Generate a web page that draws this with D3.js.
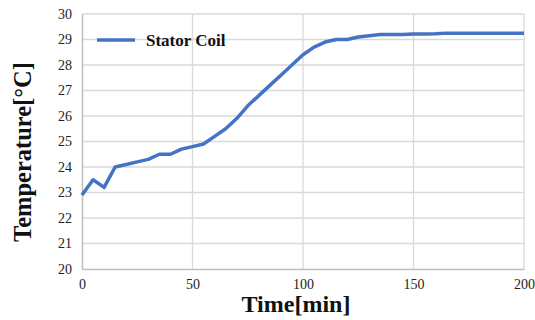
<!DOCTYPE html>
<html>
<head>
<meta charset="utf-8">
<script src="https://cdn.jsdelivr.net/npm/d3@7"></script>
<style>
  body { margin: 0; background: #fff; }
  text { font-family: "Liberation Serif", "Times New Roman", serif; }
</style>
</head>
<body>
<div id="chart"></div>
<script>
// time in minutes
var times = [0, 5, 10, 15, 20, 25, 30, 35, 40, 45, 50, 55, 60, 65, 70, 75, 80, 85, 90, 95,
             100, 105, 110, 115, 120, 125, 130, 135, 140, 145, 150, 155, 160, 165, 170,
             175, 180, 185, 190, 195, 200];
// stator coil temperature
var statorCoil = [22.9, 23.5, 23.2, 24.0, 24.1, 24.2, 24.3, 24.5, 24.5, 24.7, 24.8, 24.9, 25.2,
                  25.5, 25.9, 26.4, 26.8, 27.2, 27.6, 28.0, 28.4, 28.7, 28.9, 29.0, 29.0, 29.1,
                  29.15, 29.2, 29.2, 29.2, 29.22, 29.22, 29.23, 29.25, 29.25, 29.25, 29.25,
                  29.25, 29.25, 29.25, 29.25];
var xTicks = [0, 50, 100, 150, 200];
var yTicks = [20, 21, 22, 23, 24, 25, 26, 27, 28, 29, 30];

var width = 535, height = 320,
    margin = {top: 14, right: 11, bottom: 51, left: 82};

var svg = d3.select('#chart').append('svg')
  .attr('width', width)
  .attr('height', height);

var x = d3.scaleLinear().domain([0, 200]).range([margin.left, width - margin.right]);
var y = d3.scaleLinear().domain([20, 30]).range([height - margin.bottom, margin.top]);

// gridlines
svg.append('g').selectAll('line.h')
  .data(yTicks.filter(d => d > 20))
  .enter().append('line')
  .attr('x1', x(0)).attr('x2', x(200))
  .attr('y1', d => y(d)).attr('y2', d => y(d))
  .attr('stroke', '#d9d9d9').attr('stroke-width', 1.3);

svg.append('g').selectAll('line.v')
  .data(xTicks.filter(d => d > 0))
  .enter().append('line')
  .attr('x1', d => x(d)).attr('x2', d => x(d))
  .attr('y1', y(20)).attr('y2', y(30))
  .attr('stroke', '#d9d9d9').attr('stroke-width', 1.3);

// axes
var xAxis = d3.axisBottom(x).tickValues(xTicks).tickSize(0).tickPadding(10);
var yAxis = d3.axisLeft(y).tickValues(yTicks).tickSize(0).tickPadding(10);

var gx = svg.append('g')
  .attr('transform', `translate(0,${y(20)})`)
  .call(xAxis);
var gy = svg.append('g')
  .attr('transform', `translate(${x(0)},0)`)
  .call(yAxis);

[gx, gy].forEach(g => {
  g.attr('font-family', null);
  g.select('.domain').attr('stroke', '#bfbfbf').attr('stroke-width', 1.5);
  g.selectAll('text')
    .style('font-family', '"Liberation Serif", serif')
    .style('font-size', '14px')
    .attr('fill', '#222');
});

// line
var line = d3.line()
  .x((d, i) => x(times[i]))
  .y(d => y(d));

svg.append('path')
  .datum(statorCoil)
  .attr('fill', 'none')
  .attr('stroke', '#4472c4')
  .attr('stroke-width', 3.5)
  .attr('stroke-linejoin', 'round')
  .attr('d', line);

// legend
svg.append('line')
  .attr('x1', 97).attr('x2', 135)
  .attr('y1', 40).attr('y2', 40)
  .attr('stroke', '#4472c4').attr('stroke-width', 3.5);
svg.append('text')
  .attr('x', 146).attr('y', 46)
  .text('Stator Coil')
  .style('font-size', '17px')
  .style('font-weight', 'bold')
  .attr('fill', '#111');

// axis titles
svg.append('text')
  .attr('x', 296).attr('y', 312)
  .attr('text-anchor', 'middle')
  .text('Time[min]')
  .style('font-size', '24px')
  .style('font-weight', 'bold')
  .attr('fill', '#111');

svg.append('text')
  .attr('transform', 'translate(31,152) rotate(-90)')
  .attr('text-anchor', 'middle')
  .text('Temperature[°C]')
  .style('font-size', '24.5px')
  .style('font-weight', 'bold')
  .attr('fill', '#111');
</script>
</body>
</html>
